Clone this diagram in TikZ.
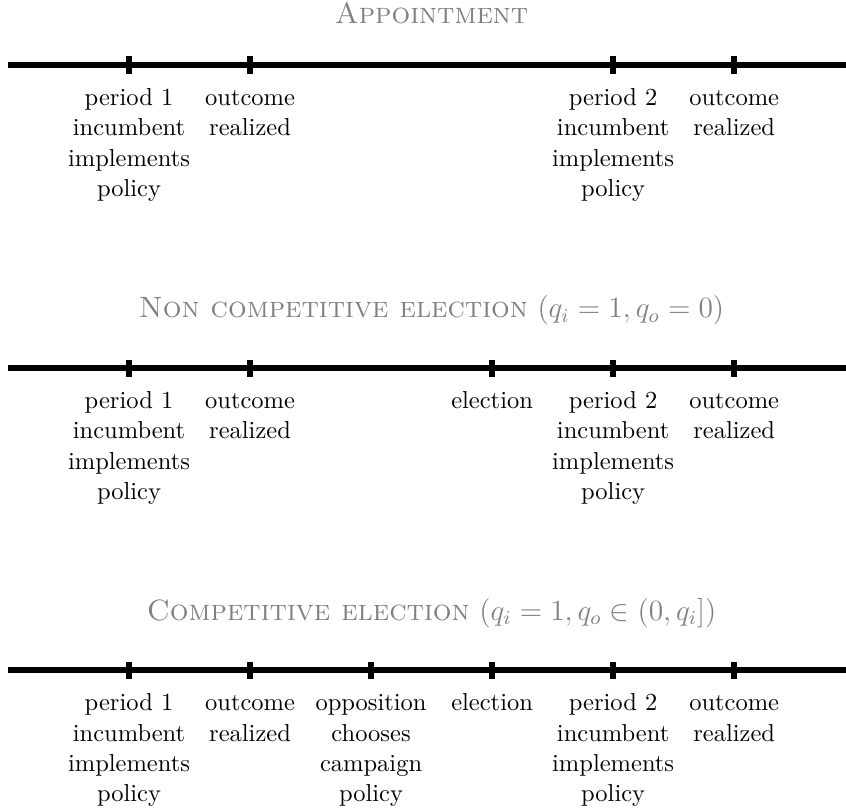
\documentclass[tikz,border=0pt]{standalone}
\usepackage{amsmath,amssymb}
\usetikzlibrary{positioning}

\begin{document}
\begin{tikzpicture}[x=1.736cm, y=1cm,
  axis/.style={line width=2.4pt},
  tickmark/.style={rectangle, fill, inner sep=0pt, minimum width=2.4pt, minimum height=7pt},
  event/.style={align=center, anchor=north},
  heading/.style={text=black!50, anchor=base, font=\large}
]
  \useasboundingbox (-0.066,0.933) rectangle (6.924,-10.674);

  % appointment
  \node[heading] (appt) at (3.5,0.59) {\textsc{Appointment}};
  \coordinate (a0) at (0,0);
  \coordinate (a7) at (7,0);
  \draw[axis] (a0) -- (a7);
  \node[tickmark] (a1) at (1,0) {};
  \node[tickmark] (a2) at (2,0) {};
  \node[tickmark] (a5) at (5,0) {};
  \node[tickmark] (a6) at (6,0) {};
  \node[below=0.3mm of a1, event] (a1t)
    {\strut period 1\\[0.4pt] incumbent\\[0.4pt] implements\\[0.4pt] policy};
  \node[below=0.3mm of a2, event] (a2t) {\strut outcome\\[0.4pt] realized};
  \node[below=0.3mm of a5, event] (a5t)
    {\strut period 2\\[0.4pt] incumbent\\[0.4pt] implements\\[0.4pt] policy};
  \node[below=0.3mm of a6, event] (a6t) {\strut outcome\\[0.4pt] realized};

  % non competitive election
  \node[heading] (nce) at (3.5,-3.627)
    {\textsc{Non competitive election} $(q_i = 1, q_o = 0)$};
  \coordinate (b0) at (0,-4.347);
  \coordinate (b7) at (7,-4.347);
  \draw[axis] (b0) -- (b7);
  \node[tickmark] (b1) at (1,-4.347) {};
  \node[tickmark] (b2) at (2,-4.347) {};
  \node[tickmark] (b4) at (4,-4.347) {};
  \node[tickmark] (b5) at (5,-4.347) {};
  \node[tickmark] (b6) at (6,-4.347) {};
  \node[below=0.3mm of b1, event] (b1t)
    {\strut period 1\\[0.4pt] incumbent\\[0.4pt] implements\\[0.4pt] policy};
  \node[below=0.3mm of b2, event] (b2t) {\strut outcome\\[0.4pt] realized};
  \node[below=0.3mm of b4, event] (b4t) {\strut election};
  \node[below=0.3mm of b5, event] (b5t)
    {\strut period 2\\[0.4pt] incumbent\\[0.4pt] implements\\[0.4pt] policy};
  \node[below=0.3mm of b6, event] (b6t) {\strut outcome\\[0.4pt] realized};

  % competitive election
  \node[heading] (ce) at (3.5,-7.96)
    {\textsc{Competitive election} $(q_i = 1, q_o \in (0, q_i])$};
  \coordinate (c0) at (0,-8.68);
  \coordinate (c7) at (7,-8.68);
  \draw[axis] (c0) -- (c7);
  \node[tickmark] (c1) at (1,-8.68) {};
  \node[tickmark] (c2) at (2,-8.68) {};
  \node[tickmark] (c3) at (3,-8.68) {};
  \node[tickmark] (c4) at (4,-8.68) {};
  \node[tickmark] (c5) at (5,-8.68) {};
  \node[tickmark] (c6) at (6,-8.68) {};
  \node[below=0.3mm of c1, event] (c1t)
    {\strut period 1\\[0.4pt] incumbent\\[0.4pt] implements\\[0.4pt] policy};
  \node[below=0.3mm of c2, event] (c2t) {\strut outcome\\[0.4pt] realized};
  \node[below=0.3mm of c3, event] (c3t)
    {\strut opposition\\[0.4pt] chooses\\[0.4pt] campaign\\[0.4pt] policy};
  \node[below=0.3mm of c4, event] (c4t) {\strut election};
  \node[below=0.3mm of c5, event] (c5t)
    {\strut period 2\\[0.4pt] incumbent\\[0.4pt] implements\\[0.4pt] policy};
  \node[below=0.3mm of c6, event] (c6t) {\strut outcome\\[0.4pt] realized};
\end{tikzpicture}
\end{document}
